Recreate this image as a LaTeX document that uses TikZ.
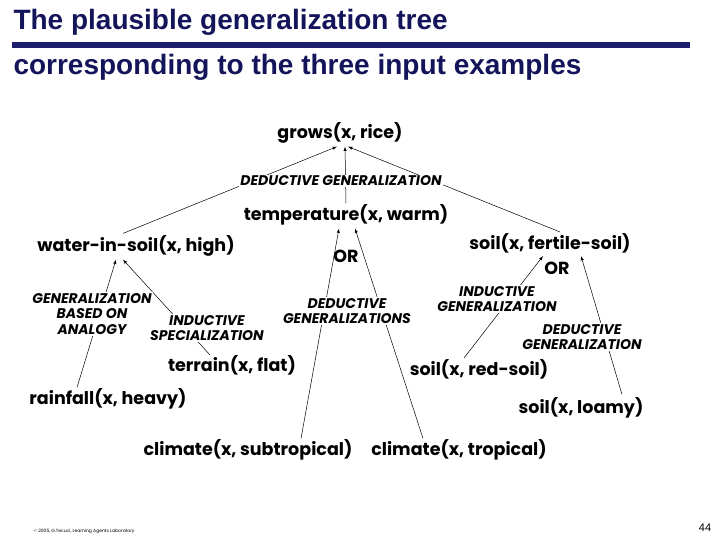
\documentclass[tikz,border=0pt]{standalone}
\usepackage{fontspec}
\setmainfont{Poppins}
\newfontfamily\titlef{Liberation Sans}
\usetikzlibrary{backgrounds,calc}
\begin{document}
\begin{tikzpicture}[x=1pt,y=-1pt,
  pred/.style={font=\fontsize{17.5}{18}\selectfont\bfseries, inner sep=1pt},
  lab/.style={font=\fontsize{14}{15.5}\selectfont\bfseries\itshape, align=center, fill=white, inner sep=1pt},
  arr/.style={-latex, line width=0.5pt}]
\useasboundingbox (0,0) rectangle (720,540);
\node[anchor=west, font=\titlef\bfseries\fontsize{28}{30}\selectfont, color={rgb,255:red,20;green,20;blue,90}] (t1) at (10,22) {The plausible generalization tree};
\node[anchor=west, font=\titlef\bfseries\fontsize{28}{30}\selectfont, color={rgb,255:red,20;green,20;blue,90}] (t2) at (10,67) {corresponding to the three input examples};
\fill[color={rgb,255:red,30;green,30;blue,110}] (12,42) rectangle (690,48);
\node[pred] (grows) at (340,133) {grows(x, rice)};
\node[lab] (dg) at (341,181) {DEDUCTIVE GENERALIZATION};
\node[pred] (temp) at (346,215) {temperature(x, warm)};
\node[pred] (water) at (136,246) {water-in-soil(x, high)};
\node[pred] (fert) at (550,243) {soil(x, fertile-soil)};
\node[pred] (or1) at (346,256) {OR};
\node[pred] (or2) at (557,268) {OR};
\node[lab] (gba) at (92,314) {GENERALIZATION\\BASED ON\\ANALOGY};
\node[lab] (is) at (207,328) {INDUCTIVE\\SPECIALIZATION};
\node[lab] (dgs) at (347,311) {DEDUCTIVE\\GENERALIZATIONS};
\node[lab] (ig) at (497,299) {INDUCTIVE\\GENERALIZATION};
\node[lab] (dg2) at (582,337) {DEDUCTIVE\\GENERALIZATION};
\node[pred] (terr) at (232,365) {terrain(x, flat)};
\node[pred] (red) at (479,369) {soil(x, red-soil)};
\node[pred] (rain) at (108,399) {rainfall(x, heavy)};
\node[pred] (loamy) at (581,408) {soil(x, loamy)};
\node[pred] (sub) at (248,450) {climate(x, subtropical)};
\node[pred] (trop) at (459,450) {climate(x, tropical)};
\node[anchor=west, font=\fontsize{4.5}{5}\selectfont\rmfamily] (foot) at (30,531) {\textcopyright{} 2005, G.Tecuci, Learning Agents Laboratory};
\node[font=\titlef\fontsize{11}{12}\selectfont] (pg) at (705,528) {44};
\begin{pgfonlayer}{background}
\draw[arr] ($(water.north)+(-13,-1)$) -- ($(grows.south)+(-3,2)$);
\draw[arr] (temp.north) -- ($(grows.south)+(5,2)$);
\draw[arr] ($(fert.north)+(10,0)$) -- ($(grows.south)+(8,2)$);
\draw[arr] ($(rain.north)+(-31,0)$) -- ($(water.south)+(-20,2)$);
\draw[arr] ($(terr.north)+(-22,1)$) -- ($(water.south)+(-13,2)$);
\draw[arr] ($(sub.north)+(53,0)$) -- ($(temp.south)+(-7,2)$);
\draw[arr] ($(trop.north)+(-36,0)$) -- ($(temp.south)+(9,2)$);
\draw[arr] ($(red.north)+(-15,0)$) -- ($(fert.south)+(-7,2)$);
\draw[arr] ($(loamy.north)+(41,-2)$) -- ($(fert.south)+(31,2)$);
\end{pgfonlayer}
\end{tikzpicture}
\end{document}
